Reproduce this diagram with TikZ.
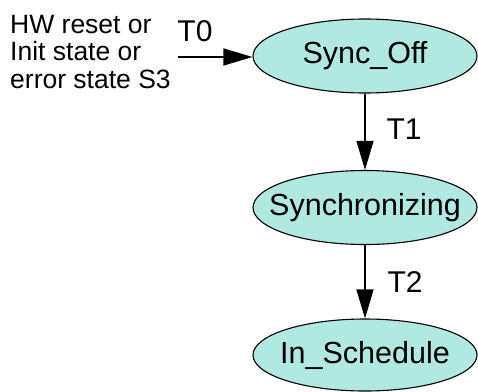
\documentclass[tikz,border=0pt]{standalone}
\usepackage{fontspec}
\setmainfont{Liberation Sans}
\usetikzlibrary{shapes.geometric,arrows.meta}
\definecolor{statefill}{HTML}{B2E8E2}
\newcommand{\zw}[1]{\makebox[0pt]{#1}}
\begin{document}
\begin{tikzpicture}[x=1pt,y=-1pt,
  state/.style={ellipse,draw=black,line width=1.1pt,fill=statefill,inner sep=0pt,
    minimum width=224pt,minimum height=74pt,font=\fontsize{30.5}{36}\selectfont},
  trans/.style={draw=black,line width=1.3pt,-{Triangle[length=29pt,width=17pt]}},
  lbl/.style={inner sep=0pt,font=\fontsize{30}{36}\selectfont},
  note/.style={inner sep=0pt,align=left,font=\fontsize{26.5}{27.5}\selectfont}]
\useasboundingbox (0,0) rectangle (478,391);
\node[state] (off) at (365,56) {\zw{Sync\_Off}};
\node[state] (sync) at (365,207.5) {\zw{Synchronizing}};
\node[state,minimum height=72pt] (sched) at (365,355) {\zw{In\_Schedule}};
\node[note,anchor=base west] (src) at (10,88) {HW reset or\\Init state or\\error state S3};
\coordinate (start) at (178,57);
\draw[trans] (start) -- (off.west |- start);
\draw[trans] (off.south) -- (sync.north);
\draw[trans] (sync.south) -- (sched.north);
\node[lbl] (t0) at (195,31) {T0};
\node[lbl] (t1) at (404,129) {T1};
\node[lbl] (t2) at (405,282) {T2};
\end{tikzpicture}
\end{document}
